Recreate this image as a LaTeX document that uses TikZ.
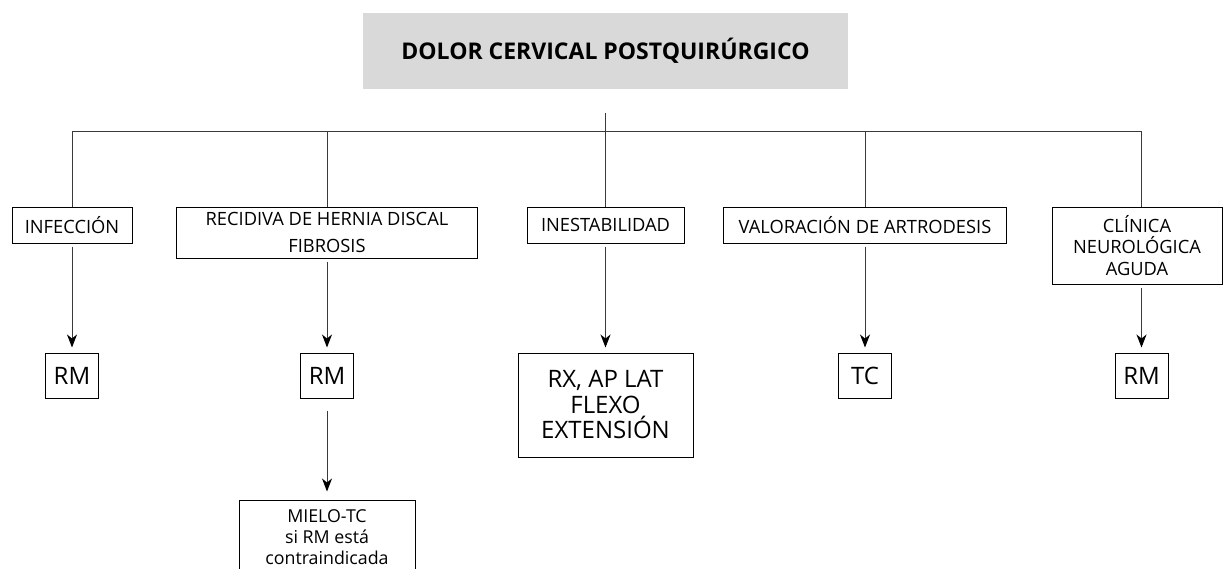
\documentclass[tikz,border=0pt]{standalone}
\usepackage{fontspec}
\setmainfont{Open Sans}
\usetikzlibrary{arrows.meta,positioning}
\definecolor{grisfondo}{HTML}{D9D9D9}
\definecolor{gristrazo}{HTML}{3A3A3A}

\begin{document}
\begin{tikzpicture}[x=1pt,y=-1pt,
    caja/.style={draw, line width=1pt, inner sep=0pt, align=center, font=\fontsize{18.3}{21.5}\selectfont},
    prueba/.style={caja, minimum width=53, minimum height=45, font=\fontsize{24}{26}\selectfont},
    linea/.style={draw=gristrazo, line width=1pt},
    flecha/.style={linea, -{Stealth[length=13pt,width=10pt,inset=4pt,color=black]}, shorten <=3pt, shorten >=5pt}]
    \useasboundingbox (0,0) rectangle (1223,568);
    \clip (0,0) rectangle (1223,568);

    % Título
    \node[fill=grisfondo, minimum width=485, minimum height=76, font=\bfseries\fontsize{23}{27}\selectfont]
        (titulo) at (605.5,51) {DOLOR CERVICAL POSTQUIRÚRGICO};
    \coordinate (nudo) at (605.5,131);

    % Causas
    \node[caja, minimum width=120, minimum height=36] (infeccion) at (72,225) {INFECCIÓN};
    \node[caja, minimum width=301, minimum height=51, font=\fontsize{18.3}{27}\selectfont]
        (recidiva) at (327,232.5) {RECIDIVA DE HERNIA DISCAL\\FIBROSIS};
    \node[caja, minimum width=157, minimum height=36] (inestabilidad) at (605.5,225) {INESTABILIDAD};
    \node[caja, minimum width=283, minimum height=36] (artrodesis) at (865,225) {VALORACIÓN DE ARTRODESIS};
    \node[caja, minimum width=170, minimum height=77] (clinica) at (1137,245.5) {CLÍNICA\\NEUROLÓGICA\\AGUDA};

    % Pruebas
    \node[prueba] (rm1) at (72,375.5) {RM};
    \node[prueba] (rm2) at (327,375.5) {RM};
    \node[caja, minimum width=175, minimum height=104, font=\fontsize{24}{25.5}\selectfont]
        (rx) at (605.5,405) {RX, AP LAT\\FLEXO\\EXTENSIÓN};
    \node[prueba] (tc) at (865,375.5) {TC};
    \node[prueba] (rm3) at (1141.5,375.5) {RM};
    \node[caja, minimum width=176, minimum height=75, font=\fontsize{17.8}{21}\selectfont]
        (mielo) at (327,537.5) {MIELO-TC\\si RM está\\contraindicada};

    % Ramas
    \draw[linea, shorten <=24pt] (titulo.south) -- (nudo);
    \draw[linea] (infeccion.north) |- (nudo);
    \draw[linea] (clinica.north -| rm3.north) |- (nudo);
    \draw[linea] (recidiva.north) -- (recidiva.north |- nudo);
    \draw[linea] (inestabilidad.north) -- (nudo);
    \draw[linea] (artrodesis.north) -- (artrodesis.north |- nudo);

    % Flechas
    \draw[flecha] (infeccion.south) -- (rm1.north);
    \draw[flecha] (recidiva.south) -- (rm2.north);
    \draw[flecha] (inestabilidad.south) -- (rx.north);
    \draw[flecha] (artrodesis.south) -- (tc.north);
    \draw[flecha] (clinica.south -| rm3.north) -- (rm3.north);
    \draw[flecha, shorten <=12pt, shorten >=8pt] (rm2.south) -- (mielo.north);
\end{tikzpicture}
\end{document}
